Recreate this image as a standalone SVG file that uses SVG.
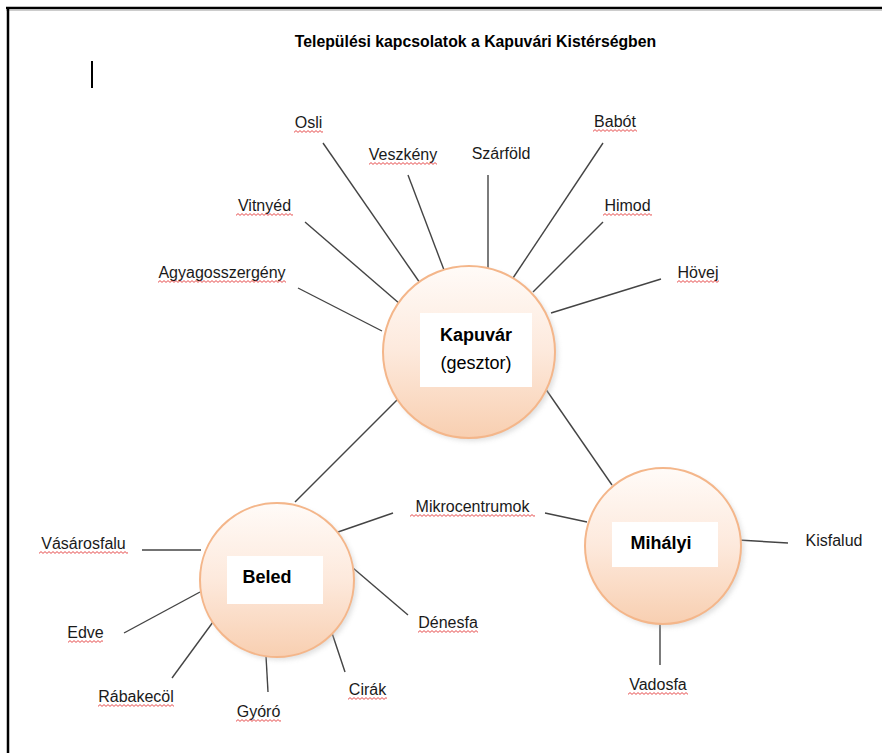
<svg xmlns="http://www.w3.org/2000/svg" width="882" height="753" viewBox="0 0 882 753">
<style>
.lbl{font-family:"Liberation Sans",Arial,sans-serif;font-size:16px;fill:#1a1a1a;text-anchor:middle}
.node{font-family:"Liberation Sans",Arial,sans-serif;font-size:18px;fill:#000;text-anchor:middle}
.b{font-weight:bold}
.title{font-family:"Liberation Sans",Arial,sans-serif;font-size:15.8px;font-weight:bold;fill:#000;text-anchor:middle}
.ln{stroke:#444;stroke-width:1.4;fill:none}
.circ{fill:url(#peach);stroke:#f4b68a;stroke-width:2}
.shadow{fill:#b9b9b9;opacity:0.45;filter:url(#blur)}
.box{fill:#fff}
.sq{fill:url(#wave)}
</style>
<defs>
<linearGradient id="peach" x1="0" y1="0" x2="0" y2="1">
<stop offset="0" stop-color="#fffbf8"/>
<stop offset="0.5" stop-color="#fde9dc"/>
<stop offset="1" stop-color="#f8cfb1"/>
</linearGradient>
<filter id="blur" x="-20%" y="-20%" width="140%" height="140%"><feGaussianBlur stdDeviation="2.5"/></filter>
<pattern id="wave" patternUnits="userSpaceOnUse" width="4" height="3">
<path d="M0 2.4 L2 0.6 L4 2.4" stroke="#e02020" stroke-width="0.8" fill="none"/>
</pattern>
</defs>
<rect width="882" height="753" fill="#fff"/>
<g id="frame">
<line x1="6" y1="8" x2="882" y2="8" stroke="#000" stroke-width="2.5"/>
<line x1="6" y1="10.5" x2="882" y2="10.5" stroke="#ccc" stroke-width="1"/>
<line x1="8" y1="7" x2="8" y2="753" stroke="#000" stroke-width="2.5"/>
<line x1="92" y1="61" x2="92" y2="88" stroke="#000" stroke-width="2"/>
</g>
<g id="title"><text class="title" x="475.5" y="47">Települési kapcsolatok a Kapuvári Kistérségben</text></g>
<g id="connectors">
<line class="ln" x1="298" y1="288" x2="382" y2="331"/>
<line class="ln" x1="305" y1="222" x2="400" y2="304"/>
<line class="ln" x1="323" y1="143" x2="420" y2="283"/>
<line class="ln" x1="408" y1="175" x2="444" y2="270"/>
<line class="ln" x1="488" y1="175" x2="488" y2="271"/>
<line class="ln" x1="603" y1="143" x2="513" y2="278"/>
<line class="ln" x1="603" y1="222" x2="533" y2="292"/>
<line class="ln" x1="661" y1="279" x2="551" y2="313"/>
<line class="ln" x1="401" y1="396" x2="295" y2="502"/>
<line class="ln" x1="545" y1="388" x2="612" y2="485"/>
<line class="ln" x1="393" y1="513" x2="338" y2="532"/>
<line class="ln" x1="545" y1="513" x2="587" y2="522"/>
<line class="ln" x1="738" y1="540" x2="788" y2="543"/>
<line class="ln" x1="660" y1="622" x2="660" y2="665"/>
<line class="ln" x1="142" y1="550" x2="201" y2="550"/>
<line class="ln" x1="124" y1="633" x2="200" y2="592"/>
<line class="ln" x1="172" y1="678" x2="213" y2="622"/>
<line class="ln" x1="268" y1="692" x2="266" y2="656"/>
<line class="ln" x1="345" y1="672" x2="332" y2="633"/>
<line class="ln" x1="408" y1="615" x2="353" y2="568"/>
</g>
<g id="kapuvar">
<circle class="shadow" cx="472" cy="355" r="86"/>
<circle class="circ" cx="469" cy="352" r="86"/>
<rect class="box" x="420" y="313" width="112" height="74"/>
<text class="node b" x="476" y="341">Kapuvár</text>
<text class="node" x="476" y="369">(gesztor)</text>
</g>
<g id="beled">
<circle class="shadow" cx="280" cy="583" r="77"/>
<circle class="circ" cx="277" cy="580" r="77"/>
<rect class="box" x="227" y="556" width="96" height="48"/>
<text class="node b" x="267" y="583">Beled</text>
</g>
<g id="mihalyi">
<circle class="shadow" cx="666" cy="549" r="78"/>
<circle class="circ" cx="663" cy="546" r="78"/>
<rect class="box" x="612" y="522" width="106" height="45"/>
<text class="node b" x="661" y="549">Mihályi</text>
</g>
<g id="osli"><text class="lbl" x="308.5" y="128">Osli</text><rect class="sq" width="29" height="3" transform="translate(294,130)"/></g>
<g id="veszkeny"><text class="lbl" x="403" y="160">Veszkény</text><rect class="sq" width="68" height="3" transform="translate(369,162)"/></g>
<g id="vitnyed"><text class="lbl" x="264.5" y="211">Vitnyéd</text><rect class="sq" width="57" height="3" transform="translate(236,213)"/></g>
<g id="agyagosszergeny"><text class="lbl" x="222" y="278">Agyagosszergény</text><rect class="sq" width="128" height="3" transform="translate(158,280)"/></g>
<g id="szarfold"><text class="lbl" x="501" y="159">Szárföld</text></g>
<g id="babot"><text class="lbl" x="615" y="127">Babót</text><rect class="sq" width="44" height="3" transform="translate(593,129)"/></g>
<g id="himod"><text class="lbl" x="627.5" y="211">Himod</text><rect class="sq" width="49" height="3" transform="translate(603,213)"/></g>
<g id="hovej"><text class="lbl" x="698" y="278">Hövej</text><rect class="sq" width="42" height="3" transform="translate(677,280)"/></g>
<g id="mikrocentrumok"><text class="lbl" x="472.5" y="512">Mikrocentrumok</text><rect class="sq" width="125" height="3" transform="translate(410,514)"/></g>
<g id="kisfalud"><text class="lbl" x="834" y="546">Kisfalud</text></g>
<g id="vadosfa"><text class="lbl" x="658" y="690">Vadosfa</text><rect class="sq" width="60" height="3" transform="translate(628,692)"/></g>
<g id="vasarosfalu"><text class="lbl" x="83.5" y="549">Vásárosfalu</text><rect class="sq" width="89" height="3" transform="translate(39,551)"/></g>
<g id="edve"><text class="lbl" x="85.5" y="638">Edve</text><rect class="sq" width="35" height="3" transform="translate(68,640)"/></g>
<g id="rabakecol"><text class="lbl" x="136" y="702">Rábakecöl</text><rect class="sq" width="76" height="3" transform="translate(98,704)"/></g>
<g id="gyoro"><text class="lbl" x="258.5" y="717">Gyóró</text><rect class="sq" width="45" height="3" transform="translate(236,719)"/></g>
<g id="cirak"><text class="lbl" x="367.5" y="695">Cirák</text><rect class="sq" width="39" height="3" transform="translate(348,697)"/></g>
<g id="denesfa"><text class="lbl" x="448" y="628">Dénesfa</text><rect class="sq" width="60" height="3" transform="translate(418,630)"/></g>
</svg>
